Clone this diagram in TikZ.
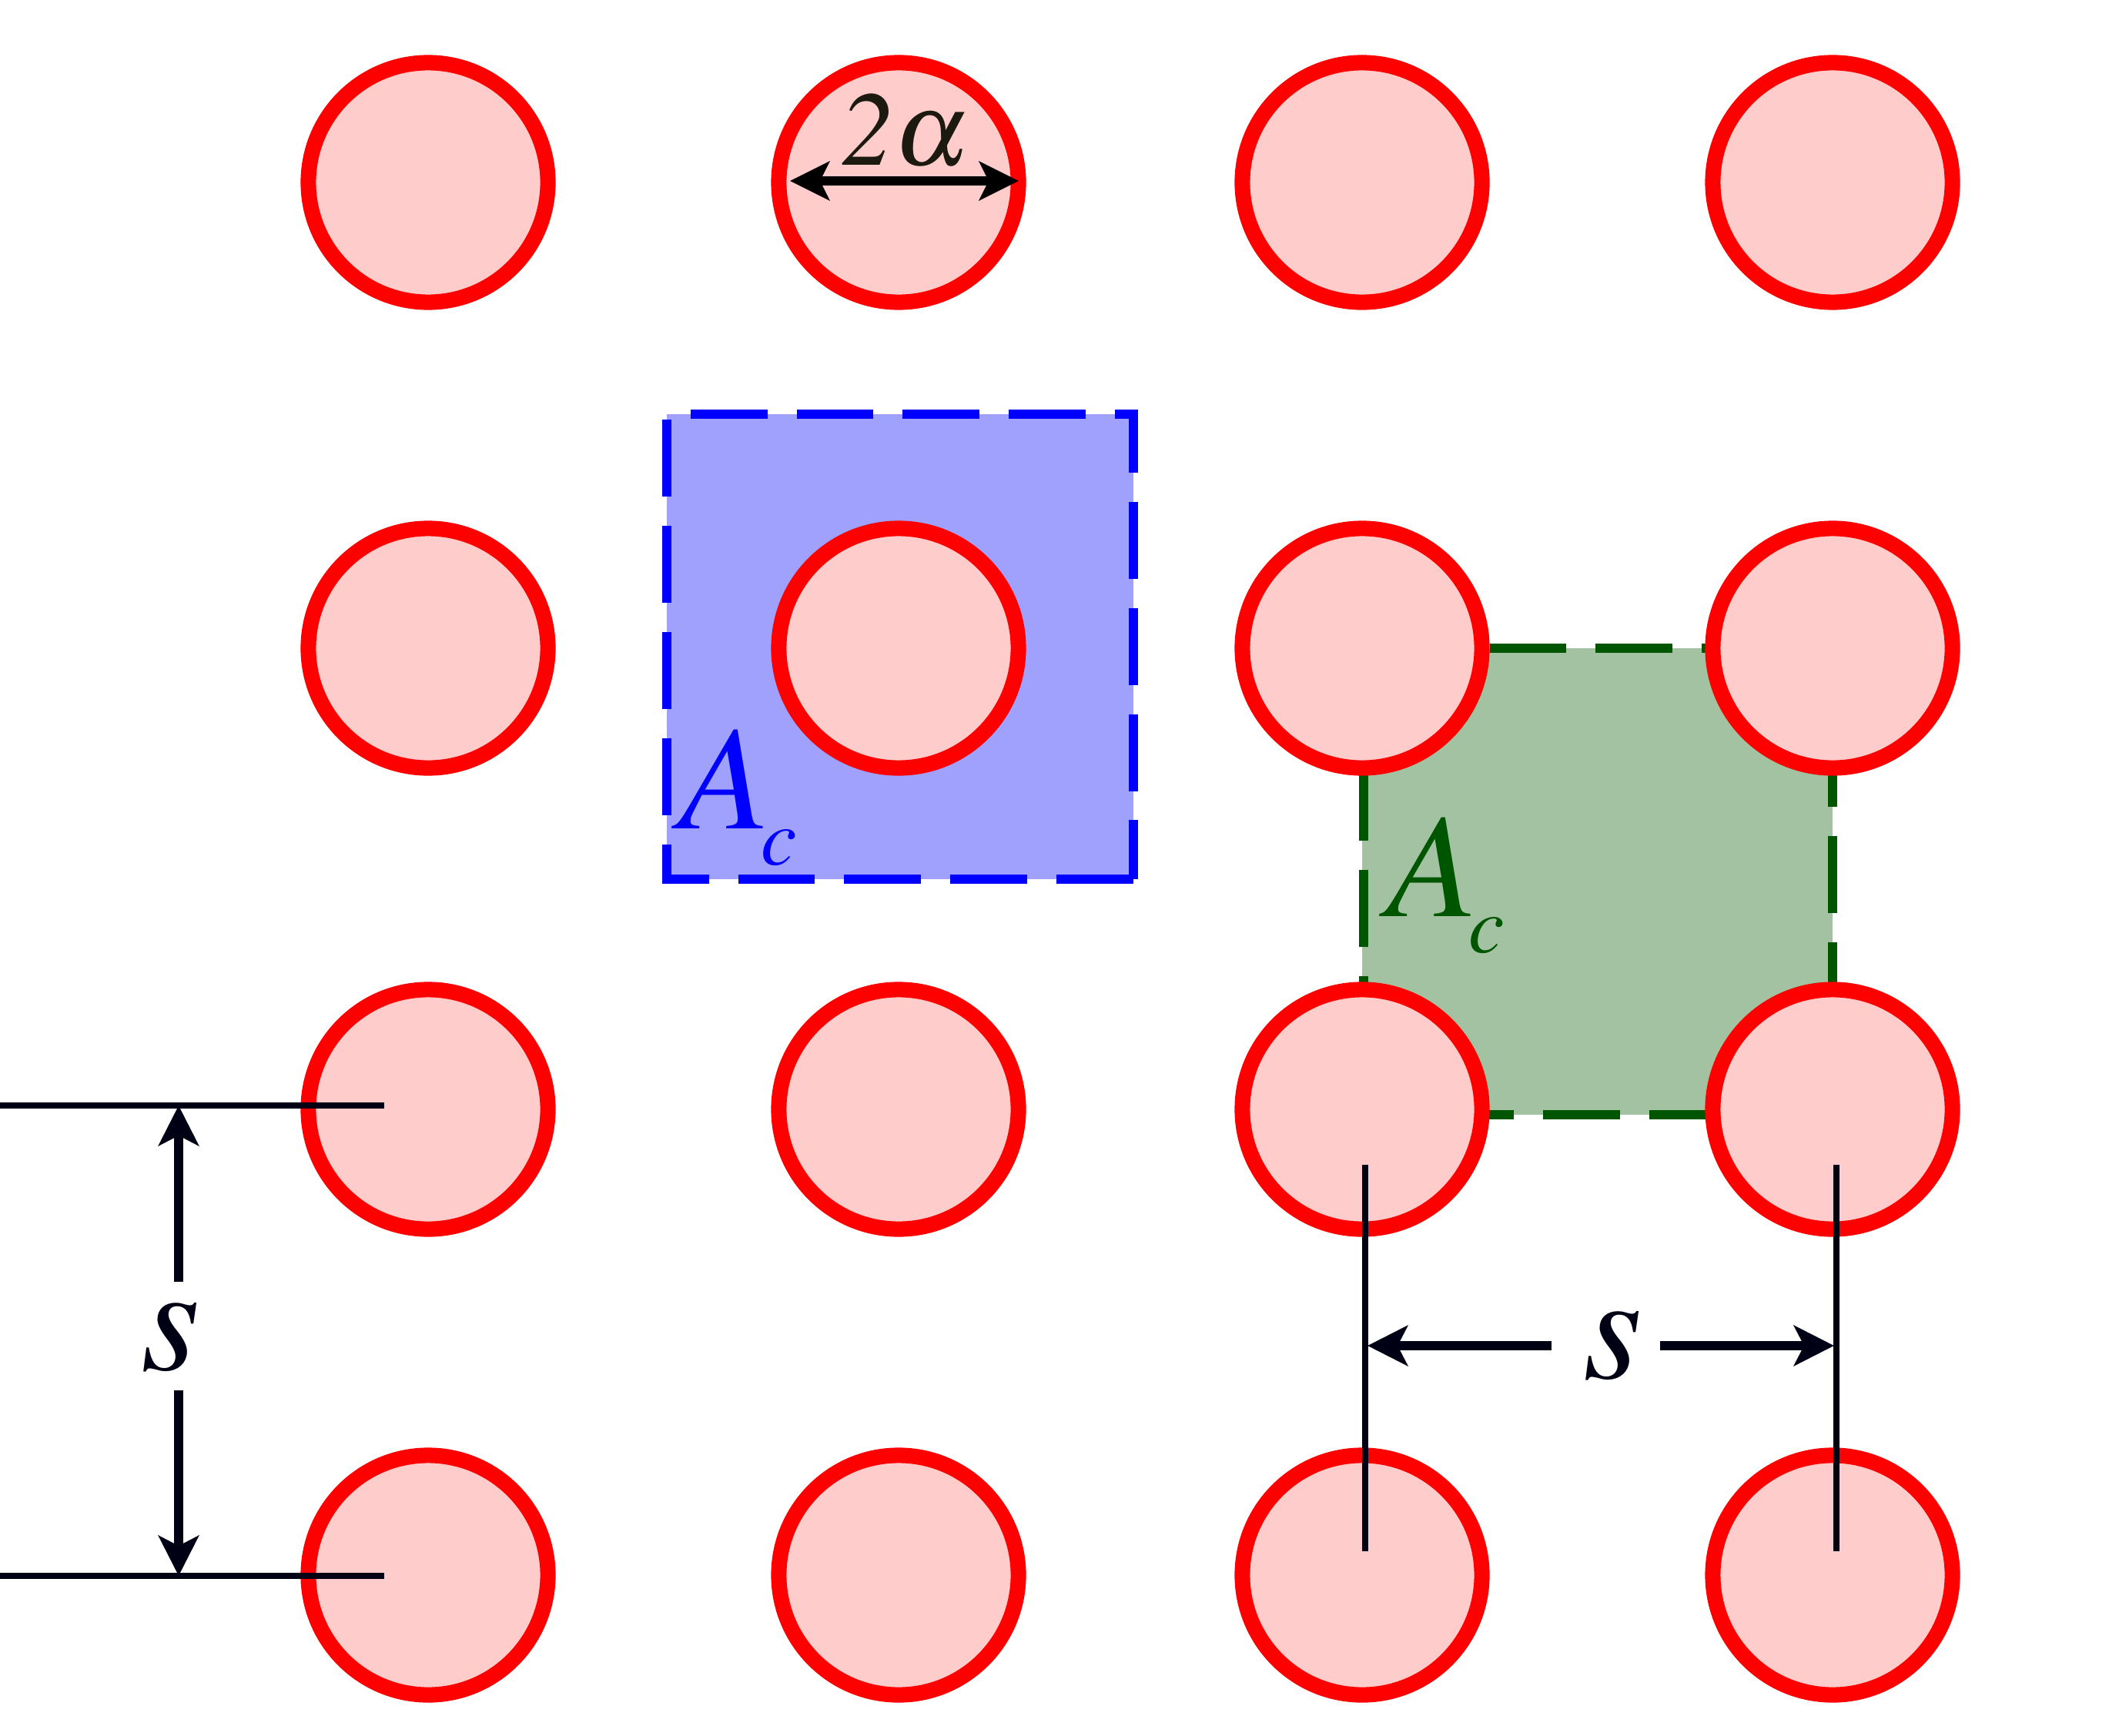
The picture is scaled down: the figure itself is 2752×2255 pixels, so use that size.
\documentclass[tikz,border=0pt]{standalone}
\usepackage{mathptmx}
\usetikzlibrary{arrows.meta}
\definecolor{discfill}{HTML}{FFCCCC}
\definecolor{discline}{HTML}{FF0000}
\definecolor{bluefill}{HTML}{A0A0FD}
\definecolor{blueline}{HTML}{0000FF}
\definecolor{greenfill}{HTML}{A2C2A2}
\definecolor{greenline}{HTML}{005500}
\definecolor{ink}{HTML}{000014}
\definecolor{alphaink}{HTML}{1C1A10}
\newcommand{\cellarea}{{\fontsize{54.7pt}{60pt}\selectfont$A$}\kern-0.12cm\raisebox{-0.47cm}{\fontsize{29.7pt}{34pt}\selectfont$c$}}
\begin{document}
\begin{tikzpicture}[x=0.01cm,y=-0.01cm]
\useasboundingbox (0,0) rectangle (2752,2255);
\tikzset{
 disc/.style={circle, draw=discline, fill=discfill, line width=5.7pt, minimum size=3.11cm, inner sep=0pt},
 cellline/.style={line width=3.4pt, dash pattern=on 28.4pt off 10.8pt},
 dimarrow/.style={draw=ink, line width=3.4pt, -{Stealth[length=14.8pt,width=14.8pt,inset=3.7pt]}},
 diamarrow/.style={draw=black, line width=3.4pt, {Stealth[length=14.5pt,width=14.2pt,inset=3.4pt]}-{Stealth[length=14.5pt,width=14.2pt,inset=3.4pt]}},
 extline/.style={draw=ink, line width=2.3pt},
 slbl/.style={inner sep=0pt, anchor=base, font=\fontsize{56pt}{60pt}\selectfont, text=ink},
 albl/.style={inner sep=0pt, anchor=base west},
}
% green unit cell
\fill[greenfill] (1769,842) rectangle (2380,1448);
\draw[cellline, greenline] (2380,1448) -- (1771,1448) -- (1771,842) -- (2380,842) -- (2380,1448);
% blue unit cell
\fill[bluefill] (866,538) rectangle (1472,1142);
\draw[cellline, blueline] (1472,1142) -- (866,1142) -- (866,538) -- (1472,538) -- (1472,1142);
% discs
\foreach \i/\x in {1/556,2/1167,3/1769,4/2380}{
  \foreach \j/\y in {1/237,2/842,3/1441,4/2046}{
    \node[disc] (d\i\j) at (\x,\y) {};
  }
}
% labels A_c
\node[albl, text=blueline] (Ab) at (882,1076) {\cellarea};
\node[albl, text=greenline] (Ag) at (1801,1190) {\cellarea};
% 2 alpha
\coordinate (dl) at (1026,235);
\coordinate (dr) at (1323,235);
\draw[diamarrow] (dl) -- (dr);
\node[inner sep=0pt, anchor=base, font=\fontsize{39pt}{44pt}\selectfont, text=alphaink] (alab) at (1176,215) {$\mathit{2}\alpha$};
% left s dimension
\coordinate (lt0) at (0,1436);
\coordinate (lt1) at (499,1436);
\coordinate (lb0) at (0,2047);
\coordinate (lb1) at (499,2047);
\draw[extline] (lt0) -- (lt1);
\draw[extline] (lb0) -- (lb1);
\coordinate (vt) at (232,1436);
\coordinate (vta) at (232,1665);
\coordinate (vba) at (232,1806);
\coordinate (vb) at (232,2047);
\draw[dimarrow] (vta) -- (vt);
\draw[dimarrow] (vba) -- (vb);
\node[slbl] (sl) at (222,1779) {$s$};
% right s dimension
\coordinate (r1a) at (1773,1513);
\coordinate (r1b) at (1773,2015);
\coordinate (r2a) at (2385,1513);
\coordinate (r2b) at (2385,2015);
\draw[extline] (r1a) -- (r1b);
\draw[extline] (r2a) -- (r2b);
\coordinate (hl) at (1776,1748);
\coordinate (hla) at (2015,1748);
\coordinate (hra) at (2156,1748);
\coordinate (hr) at (2382,1748);
\draw[dimarrow] (hla) -- (hl);
\draw[dimarrow] (hra) -- (hr);
\node[slbl] (sr) at (2095,1790) {$s$};
\end{tikzpicture}
\end{document}
